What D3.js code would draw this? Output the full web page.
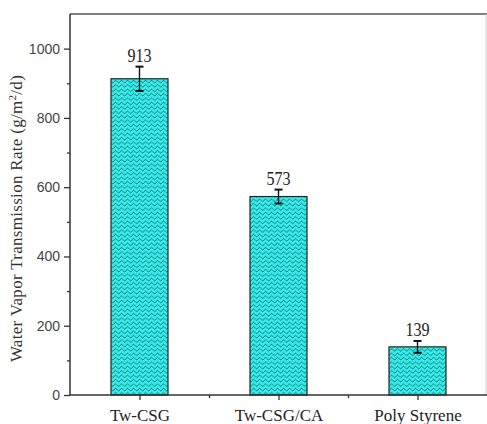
<!DOCTYPE html>
<html>
<head>
<meta charset="utf-8">
<script src="https://cdn.jsdelivr.net/npm/d3@7"></script>
<style>
  html, body { margin: 0; padding: 0; background: #fff; }
  svg { display: block; }
</style>
</head>
<body>
<svg id="chart" width="487" height="424"></svg>
<script>
// Water vapour transmission rate of the three films
const categories = ["Tw-CSG", "Tw-CSG/CA", "Poly Styrene"];
const wvtr = [913, 573, 139];
const wvtrError = [35, 20, 17];
const yTicks = [0, 200, 400, 600, 800, 1000];
const yMinorTicks = [100, 300, 500, 700, 900];

const svg = d3.select("#chart");
const plotLeft = 70, plotRight = 487, plotTop = 14, plotBottom = 395;

const x = d3.scaleLinear().domain([0.5, categories.length + 0.5]).range([plotLeft, plotRight]);
const y = d3.scaleLinear().domain([0, 1100]).range([plotBottom, plotTop]);
const barWidth = 57;

// wavy fill pattern
const defs = svg.append("defs");
const pat = defs.append("pattern")
  .attr("id", "wave")
  .attr("patternUnits", "userSpaceOnUse")
  .attr("width", 6).attr("height", 4.4);
pat.append("rect").attr("width", 6).attr("height", 4.4).attr("fill", "#33eeec");
pat.append("path")
  .attr("d", "M0,2.6 C1.5,0.6 1.5,0.6 3,2.2 C4.5,3.8 4.5,3.8 6,2.6")
  .attr("fill", "none").attr("stroke", "#1a3a3a").attr("stroke-width", 0.75);

// frame lines (top and right)
svg.append("line").attr("x1", plotLeft).attr("x2", plotRight).attr("y1", plotTop).attr("y2", plotTop)
  .attr("stroke", "#555").attr("stroke-width", 1.5);
svg.append("line").attr("x1", 486).attr("x2", 486).attr("y1", plotTop).attr("y2", plotBottom)
  .attr("stroke", "#ccc").attr("stroke-width", 1);

// bars
const bars = svg.append("g");
categories.forEach((c, i) => {
  const cx = x(i + 1);
  bars.append("rect")
    .attr("x", cx - barWidth / 2)
    .attr("y", y(wvtr[i]))
    .attr("width", barWidth)
    .attr("height", y(0) - y(wvtr[i]))
    .attr("fill", "url(#wave)")
    .attr("stroke", "#222")
    .attr("stroke-width", 1.2);
});

// error bars
const err = svg.append("g").attr("stroke", "#111").attr("stroke-width", 1.4);
categories.forEach((c, i) => {
  const cx = x(i + 1);
  const hi = y(wvtr[i] + wvtrError[i]), lo = y(wvtr[i] - wvtrError[i]);
  err.append("line").attr("x1", cx).attr("x2", cx).attr("y1", hi).attr("y2", lo);
  err.append("line").attr("x1", cx - 4).attr("x2", cx + 4).attr("y1", hi).attr("y2", hi).attr("stroke-width", 2);
  err.append("line").attr("x1", cx - 4).attr("x2", cx + 4).attr("y1", lo).attr("y2", lo).attr("stroke-width", 2);
});

// value labels (slightly tall, condensed serif digits)
categories.forEach((c, i) => {
  const lx = x(i + 1), ly = y(wvtr[i] + wvtrError[i]) - 5;
  svg.append("text")
    .attr("transform", `translate(${lx},${ly}) scale(0.95,1.15)`)
    .attr("text-anchor", "middle")
    .attr("font-family", "Liberation Serif, Times New Roman, serif")
    .attr("font-size", 17)
    .attr("fill", "#222")
    .text(wvtr[i]);
});

// y axis
const yAxis = svg.append("g").attr("transform", `translate(${plotLeft},0)`);
yAxis.call(d3.axisLeft(y).tickValues(yTicks).tickSize(6).tickPadding(4).tickFormat(d3.format("d")));
yAxis.append("g").call(d3.axisLeft(y).tickValues(yMinorTicks).tickSize(3).tickFormat(""));
yAxis.selectAll("path.domain").remove();
yAxis.append("line").attr("x1", 0).attr("x2", 0).attr("y1", plotTop).attr("y2", plotBottom)
  .attr("stroke", "#333").attr("stroke-width", 1.5);
yAxis.selectAll(".tick line").attr("stroke", "#333").attr("stroke-width", 1.3);
yAxis.selectAll(".tick text")
  .attr("font-family", "Liberation Sans, Arial, sans-serif")
  .attr("font-size", 14)
  .attr("fill", "#444");

// x axis
const xAxis = svg.append("g").attr("transform", `translate(0,${plotBottom})`);
xAxis.call(d3.axisBottom(x).tickValues(categories.map((c, i) => i + 1)).tickSize(5).tickPadding(9)
  .tickFormat((d) => categories[d - 1]));
xAxis.append("g").call(d3.axisBottom(x).tickValues([1.5, 2.5]).tickSize(3).tickFormat(""));
xAxis.selectAll("path.domain").remove();
xAxis.append("line").attr("x1", plotLeft).attr("x2", plotRight).attr("y1", 0).attr("y2", 0)
  .attr("stroke", "#333").attr("stroke-width", 1.5);
xAxis.selectAll(".tick line").attr("stroke", "#333").attr("stroke-width", 1.3);
xAxis.selectAll(".tick text")
  .attr("font-family", "Liberation Serif, Times New Roman, serif")
  .attr("font-size", 17)
  .attr("fill", "#222");

// y axis title
svg.append("text")
  .attr("transform", `translate(22,${(70 + 367) / 2}) rotate(-90)`)
  .attr("text-anchor", "middle")
  .attr("font-family", "Liberation Serif, Times New Roman, serif")
  .attr("font-size", 17)
  .attr("letter-spacing", 0.3)
  .attr("fill", "#333")
  .html('Water Vapor Transmission Rate (g/m<tspan baseline-shift="super" font-size="11">2</tspan>/d)');
</script>
</body>
</html>
